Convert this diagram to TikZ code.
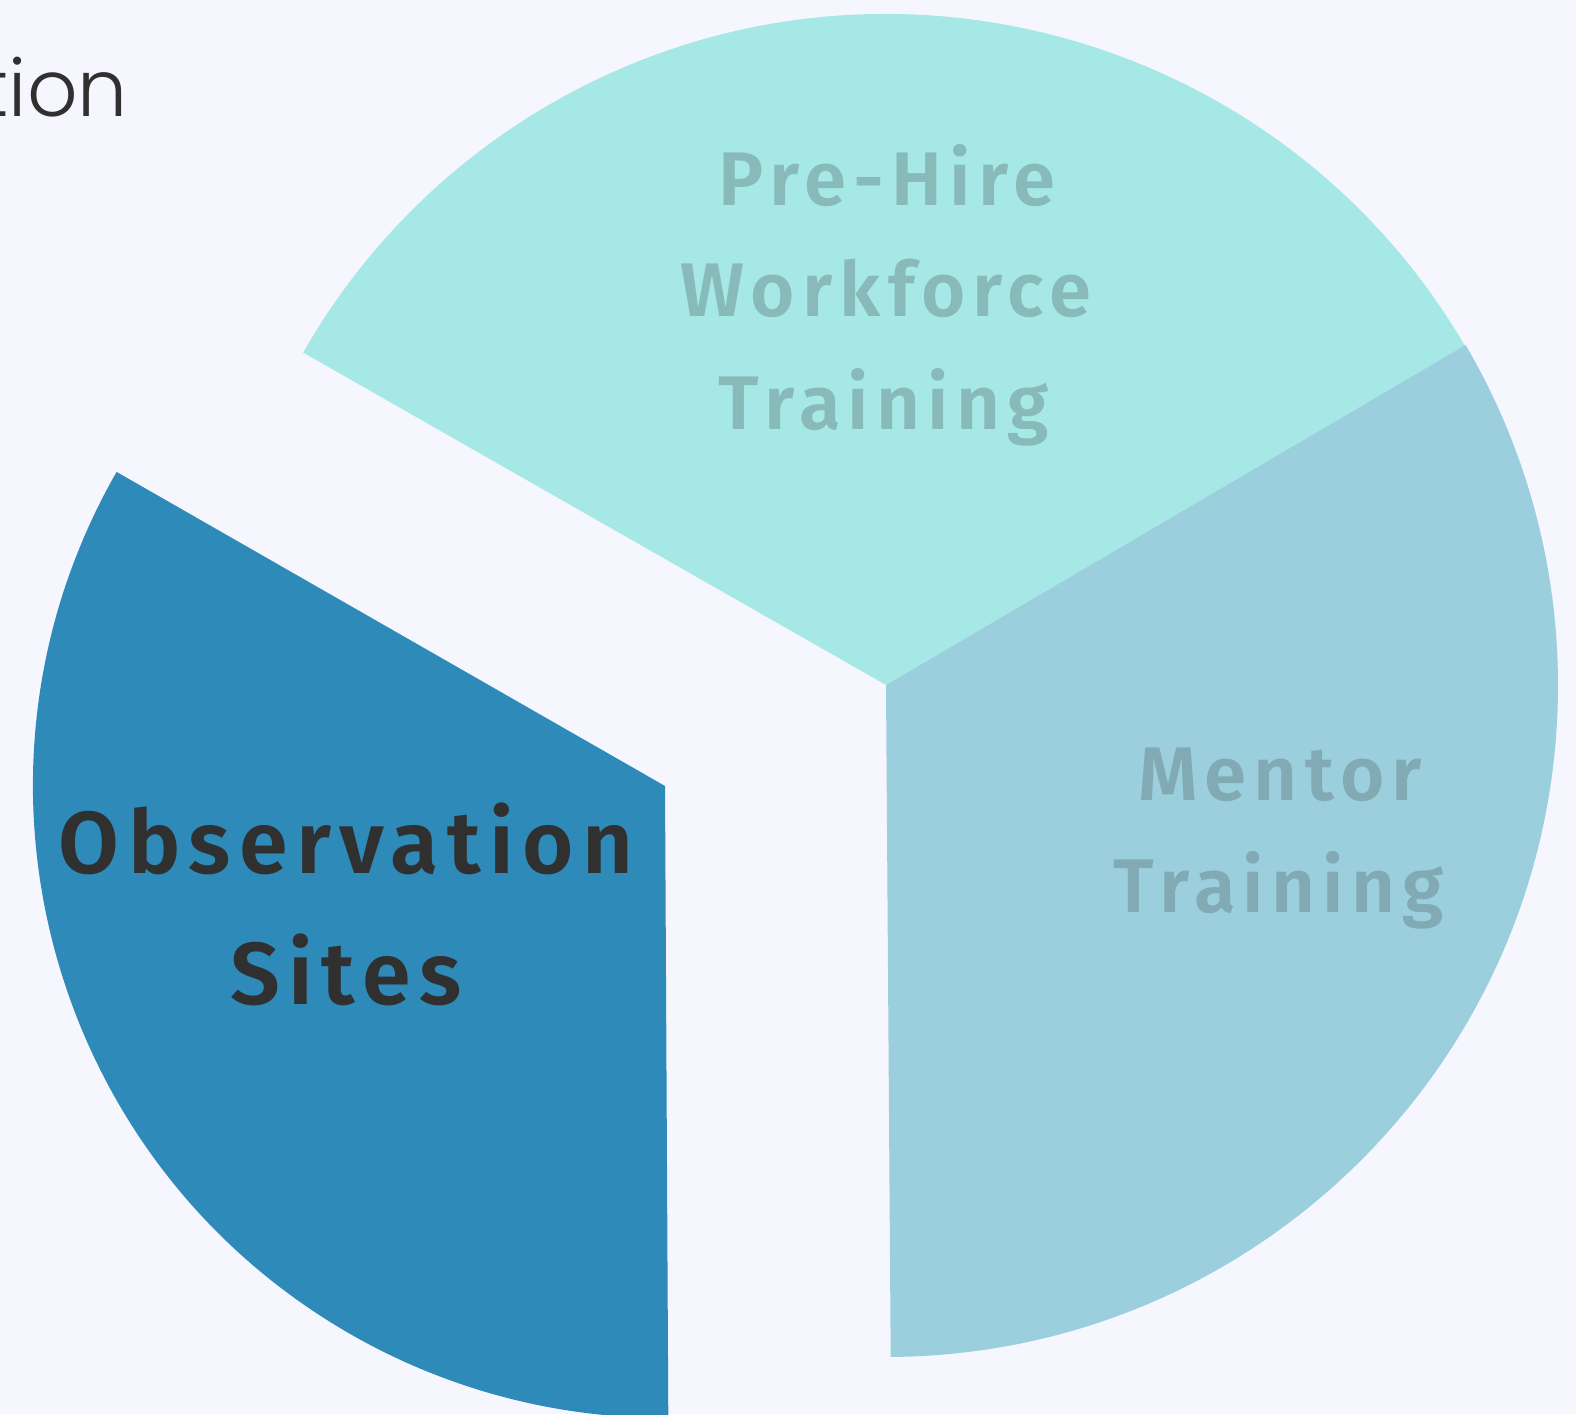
\documentclass[tikz,border=0pt]{standalone}
\usepackage{fontspec}
\setmainfont{Fira Sans}
\newfontfamily\labelfont{Fira Sans SemiBold}[LetterSpace=9.5]
\newfontfamily\titlefont{Poppins Light}
\definecolor{bgc}{HTML}{F6F7FE}
\definecolor{topc}{HTML}{A6E8E6}
\definecolor{rightc}{HTML}{9BCFDD}
\definecolor{leftc}{HTML}{2D8AB9}
\definecolor{toptext}{HTML}{89BABA}
\definecolor{righttext}{HTML}{81AAB5}
\definecolor{darktext}{HTML}{303030}
\begin{document}
\begin{tikzpicture}[x=1pt,y=1pt,
  lab/.style={inner sep=0pt, anchor=base, font=\labelfont\fontsize{76}{76}\selectfont},
  biglab/.style={inner sep=0pt, anchor=base, font=\labelfont\fontsize{88}{88}\selectfont, text=darktext}]
\useasboundingbox (0,0) rectangle (1576,1414);
\fill[bgc] (0,0) rectangle (1576,1414);
% pie sectors
\coordinate (C) at (886,729);
\coordinate (L) at (665,628);
\fill[topc] (C) -- ++(30.4:671) arc[start angle=30.4, end angle=150.3, radius=671] -- cycle;
\fill[rightc] (C) -- ++(-89.6:672) arc[start angle=-89.6, end angle=30.4, radius=672] -- cycle;
\fill[leftc] (L) -- ++(150.2:632) arc[start angle=150.2, end angle=270.3, radius=632] -- cycle;
% labels
\node[lab, text=toptext] (pre1) at (887,1208) {Pre-Hire};
\node[lab, text=toptext] (pre2) at (886,1097) {Workforce};
\node[lab, text=toptext] (pre3) at (884,984) {Training};
\node[lab, text=righttext] (men1) at (1280,613) {Mentor};
\node[lab, text=righttext] (men2) at (1279,501) {Training};
\node[biglab] (obs1) at (346,540) {Observation};
\node[biglab] (obs2) at (346,409) {Sites};
\node[inner sep=0pt, anchor=base east, text=darktext, font=\titlefont\fontsize{79}{79}\selectfont] (title) at (128,1297) {tion};
\end{tikzpicture}
\end{document}
